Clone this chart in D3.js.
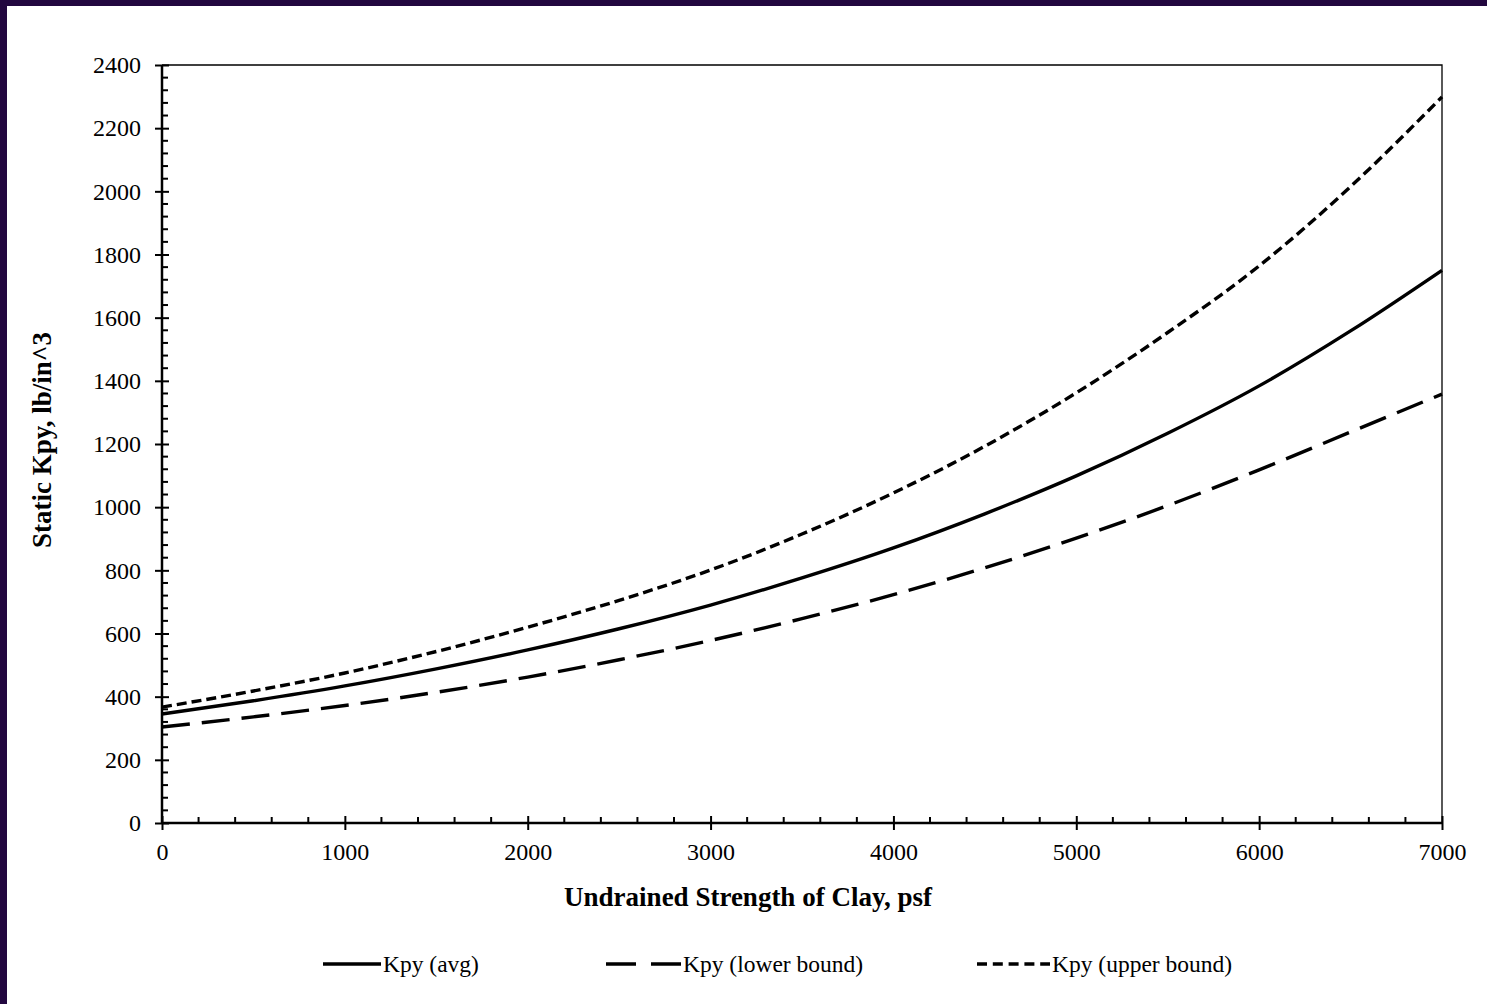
<!DOCTYPE html>
<html>
<head>
<meta charset="utf-8">
<script src="https://cdn.jsdelivr.net/npm/d3@7"></script>
<style>
  body { margin: 0; background: #ffffff; }
  svg { display: block; font-family: "Liberation Serif", "Times New Roman", serif; }
</style>
</head>
<body>
<div id="graph"></div>
<script>
var width = 1487;
var height = 1004;
var margin = { top: 65, bottom: 181, left: 162, right: 45 };

// undrained strength of clay, psf
var strength = [0, 500, 1000, 1500, 2000, 2500, 3000, 3500, 4000, 4500, 5000, 5500, 6000, 6500, 7000];
// static Kpy, lb/in^3
var kpyAvg   = [345, 387, 434, 488, 548, 615, 690, 776, 871, 979, 1099, 1234, 1384, 1558, 1750];
var kpyLower = [304, 336, 372, 414, 462, 517, 578, 647, 723, 808, 902, 1005, 1118, 1238, 1358];
var kpyUpper = [367, 418, 475, 543, 620, 705, 801, 915, 1045, 1193, 1362, 1553, 1764, 2015, 2299];

var xTicks = [0, 1000, 2000, 3000, 4000, 5000, 6000, 7000];
var yTicks = [0, 200, 400, 600, 800, 1000, 1200, 1400, 1600, 1800, 2000, 2200, 2400];

var seriesNames = ["Kpy (avg)", "Kpy (lower bound)", "Kpy (upper bound)"];
var seriesDash = ["none", "28,12", "10,5"];

var svg = d3.select("#graph").append("svg")
  .attr("width", width)
  .attr("height", height);

// dark frame on top/left edge
svg.append("rect").attr("x", 0).attr("y", 0).attr("width", width).attr("height", height).attr("fill", "#22073f");
svg.append("rect").attr("x", 7).attr("y", 6).attr("width", width).attr("height", height).attr("fill", "#ffffff");

var xScale = d3.scaleLinear().domain([0, 7000]).range([margin.left, width - margin.right]);
var yScale = d3.scaleLinear().domain([0, 2400]).range([height - margin.bottom, margin.top]);

var x0 = xScale(0), x1 = xScale(7000), y0 = yScale(0), y1 = yScale(2400);

// top + right frame (thin)
svg.append("path")
  .attr("d", "M" + x0 + "," + y1 + "H" + x1 + "V" + y0)
  .attr("fill", "none").attr("stroke", "#000").attr("stroke-width", 1.3);

// minor ticks
var xMinor = d3.range(0, 7001, 200).filter(function (d) { return d % 1000 != 0; });
var yMinor = d3.range(0, 2401, 40).filter(function (d) { return d % 200 != 0; });

svg.append("g").selectAll("line").data(xMinor).enter().append("line")
  .attr("x1", function (d) { return xScale(d); }).attr("x2", function (d) { return xScale(d); })
  .attr("y1", y0).attr("y2", y0 - 6)
  .attr("stroke", "#000").attr("stroke-width", 2);

svg.append("g").selectAll("line").data(yMinor).enter().append("line")
  .attr("y1", function (d) { return yScale(d); }).attr("y2", function (d) { return yScale(d); })
  .attr("x1", x0).attr("x2", x0 + 6)
  .attr("stroke", "#000").attr("stroke-width", 2);

// major axes with crossing ticks
var xAxis = svg.append("g")
  .attr("transform", "translate(0," + y0 + ")")
  .call(d3.axisBottom(xScale).tickValues(xTicks).tickSize(7).tickPadding(13).tickFormat(d3.format("d")));
xAxis.select(".domain").remove();
xAxis.selectAll(".tick line").attr("y1", -7).attr("stroke-width", 2);
xAxis.selectAll(".tick text").attr("font-size", "24px").attr("font-family", "Liberation Serif").attr("fill", "#000");

var yAxis = svg.append("g")
  .attr("transform", "translate(" + x0 + ",0)")
  .call(d3.axisLeft(yScale).tickValues(yTicks).tickSize(7).tickPadding(14).tickFormat(d3.format("d")));
yAxis.select(".domain").remove();
yAxis.selectAll(".tick line").attr("x1", 7).attr("stroke-width", 2);
yAxis.selectAll(".tick text").attr("font-size", "24px").attr("font-family", "Liberation Serif").attr("fill", "#000");

// axis lines
svg.append("line").attr("x1", x0).attr("x2", x1).attr("y1", y0).attr("y2", y0).attr("stroke", "#000").attr("stroke-width", 2.5);
svg.append("line").attr("x1", x0).attr("x2", x0).attr("y1", y0).attr("y2", y1).attr("stroke", "#000").attr("stroke-width", 2.5);

// curves
var allSeries = [kpyAvg, kpyLower, kpyUpper];
var line = d3.line()
  .x(function (d, i) { return xScale(strength[i]); })
  .y(function (d) { return yScale(d); })
  .curve(d3.curveMonotoneX);

svg.append("g").selectAll("path").data(allSeries).enter().append("path")
  .attr("d", line)
  .attr("fill", "none")
  .attr("stroke", "#000")
  .attr("stroke-width", 3.4)
  .attr("stroke-dasharray", function (d, i) { return seriesDash[i]; });

// axis titles
svg.append("text")
  .attr("x", 748).attr("y", 906)
  .attr("text-anchor", "middle")
  .attr("font-size", "27px").attr("font-weight", "bold")
  .text("Undrained Strength of Clay, psf");

svg.append("text")
  .attr("transform", "translate(51,440) rotate(-90)")
  .attr("text-anchor", "middle")
  .attr("font-size", "27px").attr("font-weight", "bold")
  .text("Static Kpy, lb/in^3");

// legend
var legendX = [323, 606, 977];
var legendLen = [58, 75, 73];
var legend = svg.append("g").selectAll("g").data(seriesNames).enter().append("g")
  .attr("transform", function (d, i) { return "translate(" + legendX[i] + ",964)"; });
legend.append("line")
  .attr("x1", 0).attr("x2", function (d, i) { return legendLen[i]; })
  .attr("y1", 0).attr("y2", 0)
  .attr("stroke", "#000").attr("stroke-width", 3.4)
  .attr("stroke-dasharray", function (d, i) { return i == 1 ? "30,15" : (i == 2 ? "10,5.8" : "none"); });
legend.append("text")
  .attr("x", function (d, i) { return legendLen[i] + 2; })
  .attr("y", 8)
  .attr("font-size", "23.5px")
  .text(function (d) { return d; });
</script>
</body>
</html>
